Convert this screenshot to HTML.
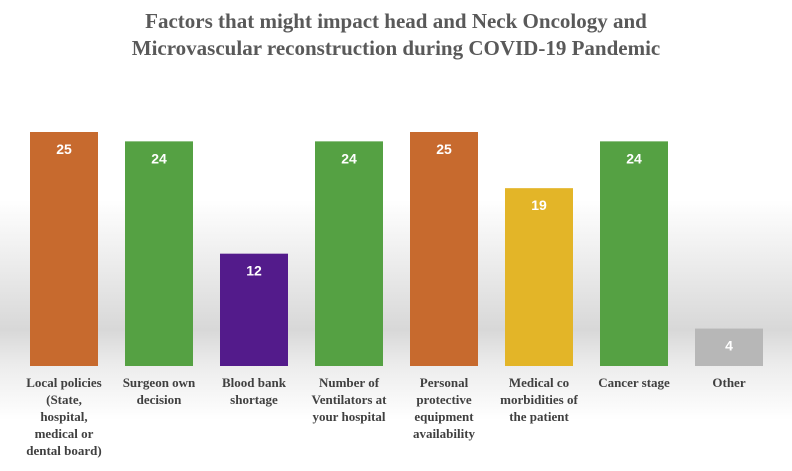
<!DOCTYPE html>
<html><head><meta charset="utf-8"><style>
html,body{margin:0;padding:0}
body{width:792px;height:471px;overflow:hidden;font-family:"Liberation Serif",serif;
background:linear-gradient(#fff 0px,#fff 200px,#e4e4e4 290px,#d8d8d8 330px,#ececec 365px,#fff 420px,#fff 471px);position:relative}
#title{position:absolute;left:0;width:792px;top:8px;text-align:center;font-weight:bold;font-size:21px;line-height:27px;color:#595959}
.lbl{position:absolute;text-align:center;font-weight:bold;font-size:13px;line-height:17px;color:#404040;width:96px}
</style></head><body>
<div id="title">Factors that might impact head and Neck Oncology and<br>Microvascular reconstruction during COVID-19 Pandemic</div>
<svg id="chart" width="792" height="471" style="position:absolute;left:0;top:0"></svg>
<script>
const categories=["Local policies<br>(State,<br>hospital,<br>medical or<br>dental board)","Surgeon own<br>decision","Blood bank<br>shortage","Number of<br>Ventilators at<br>your hospital","Personal<br>protective<br>equipment<br>availability","Medical co<br>morbidities of<br>the patient","Cancer stage","Other"];
const values=[25,24,12,24,25,19,24,4];
const colors=["#c76a2e","#55a143","#531b8b","#55a143","#c76a2e","#e3b528","#55a143","#b7b7b7"];
const base=366,unit=9.36,x0=30,step=95,bw=68;
const y=v=>base-v*unit, x=i=>x0+i*step;
const svg=document.getElementById('chart');const ns="http://www.w3.org/2000/svg";
values.forEach((v,i)=>{
 const r=document.createElementNS(ns,'rect');
 r.setAttribute('x',x(i));r.setAttribute('y',y(v));r.setAttribute('width',bw);r.setAttribute('height',v*unit);r.setAttribute('fill',colors[i]);
 
 
 svg.appendChild(r);
 const t=document.createElementNS(ns,'text');
 t.setAttribute('x',x(i)+bw/2);t.setAttribute('y',y(v)+22);t.setAttribute('text-anchor','middle');
 t.setAttribute('font-family','Liberation Sans, sans-serif');t.setAttribute('font-weight','bold');t.setAttribute('font-size','14');t.setAttribute('fill','#fff');
 t.textContent=v;
 
 
 svg.appendChild(t);
 const d=document.createElement('div');d.className='lbl';d.innerHTML=categories[i];
 d.style.left=(x(i)+bw/2-48)+'px';d.style.top='374px';
 
 
 document.body.appendChild(d);
});
</script>
</body></html>
